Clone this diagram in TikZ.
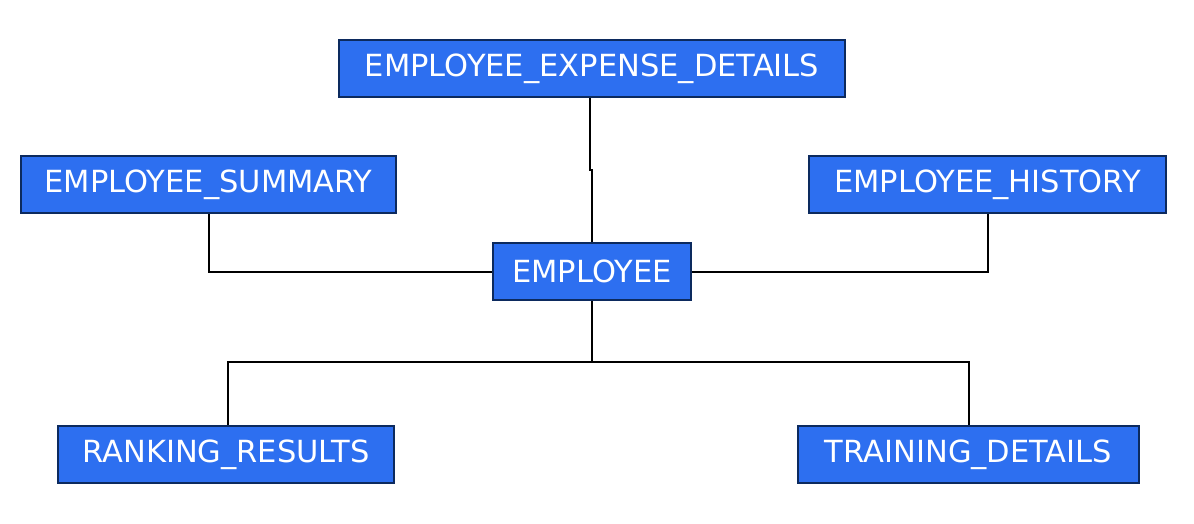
\documentclass[tikz,border=0pt]{standalone}
\usepackage{fontspec}
\setmainfont{DejaVu Sans}
\definecolor{boxfill}{HTML}{2D6FF0}
\definecolor{boxedge}{HTML}{0C2A5E}
\begin{document}
\begin{tikzpicture}[x=1pt,y=-1pt,
  table/.style={draw=boxedge,line width=1.8pt,fill=boxfill,text=white,
    inner sep=0pt,minimum height=57pt,font=\fontsize{30.5}{32}\selectfont},
  link/.style={draw=black,line width=2pt}]
\useasboundingbox (0,0) rectangle (1194,524);
\node[table,minimum width=506pt] (exp) at (592,68.5) {EMPLOYEE\_EXPENSE\_DETAILS};
\node[table,minimum width=375pt] (sum) at (208.5,184.5) {EMPLOYEE\_SUMMARY};
\node[table,minimum width=357pt] (his) at (987.5,184.5) {EMPLOYEE\_HISTORY};
\node[table,minimum width=198pt] (emp) at (592,271.5) {EMPLOYEE};
\node[table,minimum width=336pt] (rank) at (226,454.5) {RANKING\_RESULTS};
\node[table,minimum width=341pt] (train) at (968.5,454.5) {TRAINING\_DETAILS};
\coordinate (split) at (592,362);
\draw[link] (exp.south -| 590,0) -- (590,170) -- (592,170) -- (emp.north);
\draw[link] (sum.south) |- (emp.west);
\draw[link] (his.south) |- (emp.east);
\draw[link] (emp.south) -- (split);
\draw[link] (rank.north -| 228,0) |- (split) -| (train.north);
\end{tikzpicture}
\end{document}
